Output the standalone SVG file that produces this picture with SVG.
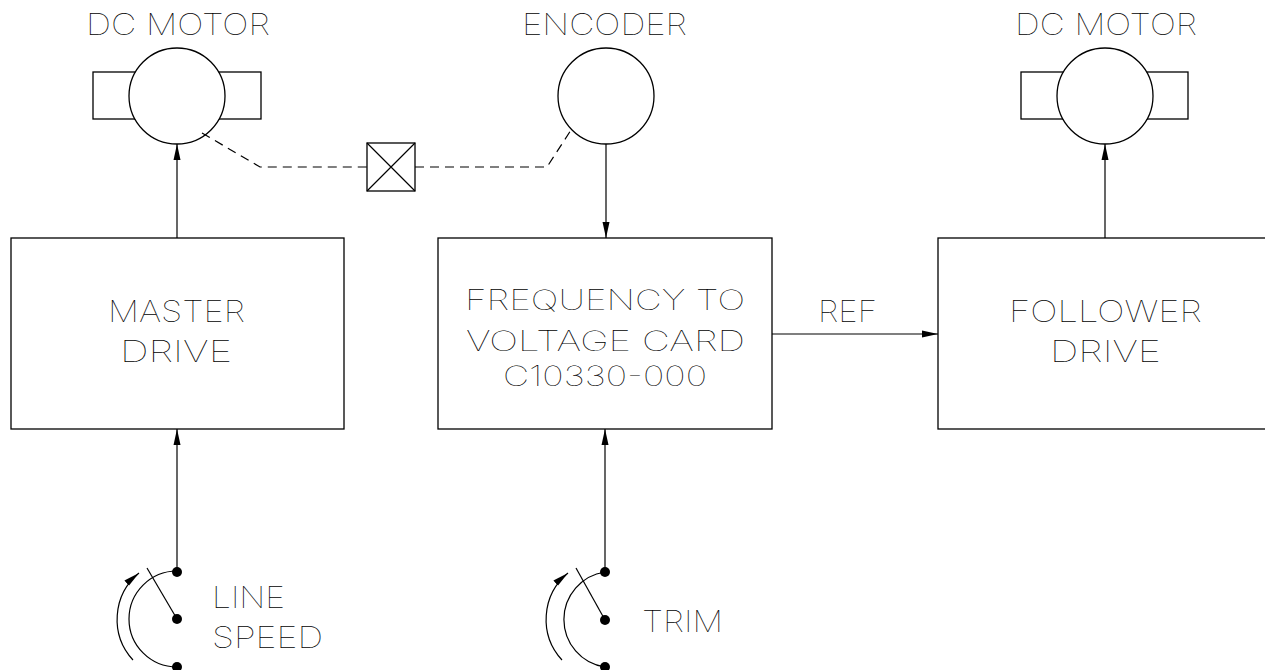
<svg xmlns="http://www.w3.org/2000/svg" width="1265" height="670" viewBox="0 0 1265 670">
<style>
.ln{fill:none;stroke:#000;stroke-width:1.2}
.bx{fill:#fff;stroke:#000;stroke-width:1.3}
.ds{fill:none;stroke:#000;stroke-width:1.2;stroke-dasharray:9 6}
.dot{fill:#000}
text{font-family:Inter,"Liberation Sans",sans-serif;font-weight:100;font-size:30px;fill:#000}
.sm{font-size:28px}
</style>
<defs>
<marker id="ah" markerUnits="userSpaceOnUse" markerWidth="17" markerHeight="9" refX="16" refY="4.5" orient="auto">
<path d="M0,1 L16,4.5 L0,8 Z" fill="#000"/>
</marker>
</defs>
<g id="master-motor">
<rect class="bx" x="93" y="72" width="168" height="47"/>
<circle class="bx" cx="177" cy="96" r="48"/>
<text x="86" y="35" textLength="184" lengthAdjust="spacingAndGlyphs">DC MOTOR</text>
</g>
<g id="encoder">
<circle class="bx" cx="606" cy="96" r="48"/>
<text x="522" y="35" textLength="165" lengthAdjust="spacingAndGlyphs">ENCODER</text>
</g>
<g id="follower-motor">
<rect class="bx" x="1021" y="72" width="167" height="47"/>
<circle class="bx" cx="1105" cy="96" r="48"/>
<text x="1015" y="35" textLength="182" lengthAdjust="spacingAndGlyphs">DC MOTOR</text>
</g>
<g id="coupling">
<rect class="bx" x="367" y="143" width="48" height="48"/>
<path class="ln" d="M367,143 L415,191 M415,143 L367,191"/>
</g>
<g id="master-drive">
<rect class="bx" x="11" y="238" width="333" height="191"/>
<text x="108" y="322" textLength="137" lengthAdjust="spacingAndGlyphs">MASTER</text>
<text x="120" y="362" textLength="112" lengthAdjust="spacingAndGlyphs">DRIVE</text>
</g>
<g id="fv-card">
<rect class="bx" x="438" y="238" width="334" height="191"/>
<text class="sm" x="465" y="310" textLength="280" lengthAdjust="spacingAndGlyphs">FREQUENCY TO</text>
<text class="sm" x="466" y="351" textLength="279" lengthAdjust="spacingAndGlyphs">VOLTAGE CARD</text>
<text class="sm" x="503" y="386" textLength="204" lengthAdjust="spacingAndGlyphs">C10330-000</text>
</g>
<g id="follower-drive">
<rect class="bx" x="938" y="238" width="340" height="191"/>
<text x="1009" y="322" textLength="193" lengthAdjust="spacingAndGlyphs">FOLLOWER</text>
<text x="1050" y="362" textLength="111" lengthAdjust="spacingAndGlyphs">DRIVE</text>
</g>
<g id="line-speed-pot">
<path class="ln" d="M177,571 A48,48 0 0 0 177,667"/>
<path class="ln" d="M177,619 L147,568"/>
<path class="ln" d="M133,660 A60,60 0 0 1 139,573" marker-end="url(#ah)"/>
<circle class="dot" cx="177" cy="572" r="5"/>
<circle class="dot" cx="177" cy="619" r="5"/>
<circle class="dot" cx="177" cy="667" r="5"/>
<text x="212" y="608" textLength="73" lengthAdjust="spacingAndGlyphs">LINE</text>
<text x="212" y="648" textLength="111" lengthAdjust="spacingAndGlyphs">SPEED</text>
</g>
<g id="trim-pot">
<path class="ln" d="M605,572 A48,48 0 0 0 605,667"/>
<path class="ln" d="M605,620 L576,568"/>
<path class="ln" d="M562,660 A60,60 0 0 1 568,573" marker-end="url(#ah)"/>
<circle class="dot" cx="605" cy="572" r="5"/>
<circle class="dot" cx="605" cy="620" r="5"/>
<circle class="dot" cx="605" cy="667" r="5"/>
<text x="642" y="632" textLength="81" lengthAdjust="spacingAndGlyphs">TRIM</text>
</g>
<g id="connectors">
<path class="ln" d="M177,238 L177,144" marker-end="url(#ah)"/>
<path class="ln" d="M606,144 L606,238" marker-end="url(#ah)"/>
<path class="ln" d="M1105,238 L1105,144" marker-end="url(#ah)"/>
<path class="ln" d="M177,572 L177,429" marker-end="url(#ah)"/>
<path class="ln" d="M605,572 L605,429" marker-end="url(#ah)"/>
<path class="ln" d="M772,334 L938,334" marker-end="url(#ah)"/>
<text x="818" y="322" textLength="59" lengthAdjust="spacingAndGlyphs">REF</text>
<path class="ds" d="M202,133 L260,167 L367,167"/>
<path class="ds" d="M415,167 L547,167 L571,130"/>
</g>
</svg>
